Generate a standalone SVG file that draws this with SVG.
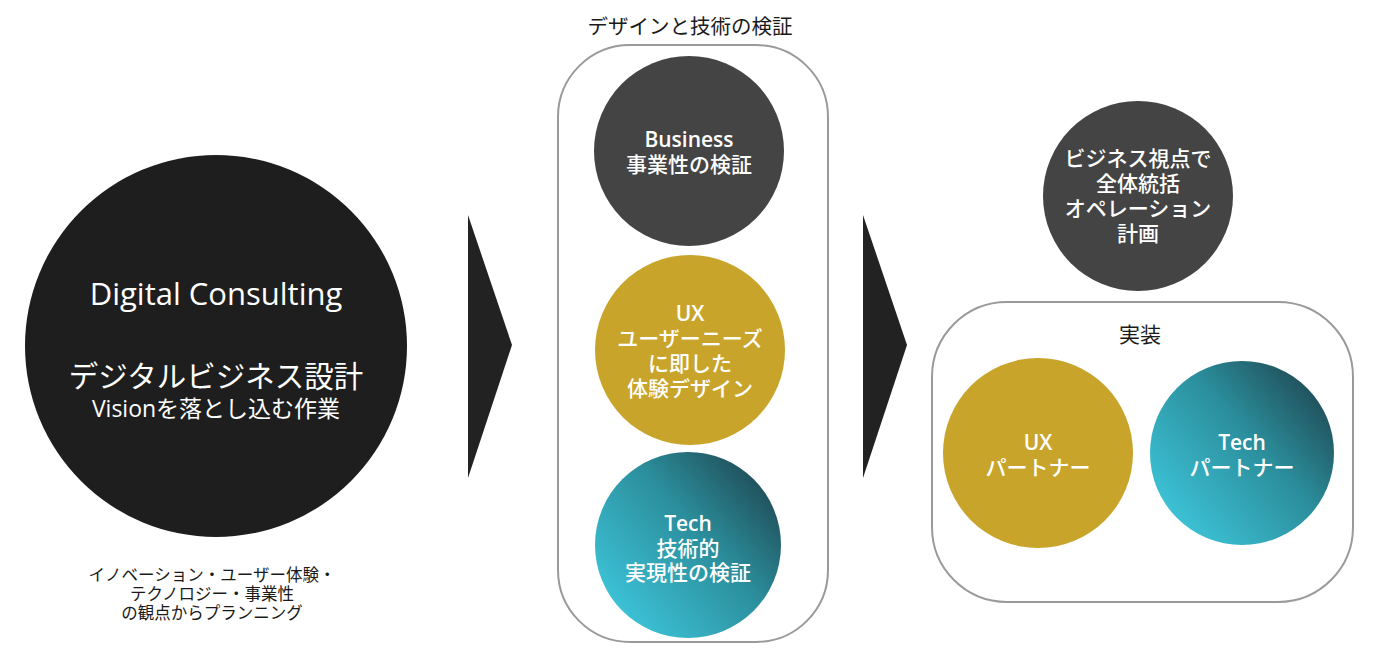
<svg xmlns="http://www.w3.org/2000/svg" width="1379" height="650" viewBox="0 0 1379 650">
<defs>
<linearGradient id="teal" x1="0.15" y1="0.85" x2="0.95" y2="0.15">
<stop offset="0" stop-color="#3cc0d4"/>
<stop offset="0.55" stop-color="#2b8e9c"/>
<stop offset="1" stop-color="#1f4a54"/>
</linearGradient>
<style>
text{font-family:"Open Sans","Noto Sans CJK JP",sans-serif;text-anchor:middle}
.w{fill:#ffffff}
.k{fill:#1a1a1a}
.c{font-size:21px;font-weight:500}
.lat{font-size:21px;font-weight:600}
.frame{fill:none;stroke:#9a9a9a;stroke-width:2}
.arrow{fill:#222222}
</style>
</defs>
<rect width="1379" height="650" fill="#ffffff"/>

<g id="digital-consulting">
<circle cx="216" cy="346" r="191" fill="#1e1e1e"/>
<text class="w" x="216" y="305" font-size="31">Digital Consulting</text>
<text class="w" x="216" y="387" font-size="29.5">デジタルビジネス設計</text>
<text class="w" x="216" y="417" font-size="23">Visionを落とし込む作業</text>
</g>

<g id="planning-note">
<text class="k" x="212" y="581" font-size="16.5">イノベーション・ユーザー体験・</text>
<text class="k" x="212" y="600" font-size="16.5">テクノロジー・事業性</text>
<text class="k" x="212" y="619" font-size="16.5">の観点からプランニング</text>
</g>

<g id="connectors">
<polygon class="arrow" points="468,215 512,345 468,478"/>
<polygon class="arrow" points="863,215 907,345 863,478"/>
</g>

<g id="verification">
<text class="k" x="690" y="34" font-size="20.5">デザインと技術の検証</text>
<rect class="frame" x="558" y="45" width="270" height="597" rx="72"/>
</g>

<g id="business">
<circle cx="689" cy="151" r="95" fill="#444444"/>
<text class="w lat" x="689" y="147">Business</text>
<text class="w c" x="689" y="172">事業性の検証</text>
</g>

<g id="ux">
<circle cx="690" cy="350" r="95" fill="#c9a42a"/>
<text class="w lat" x="690" y="321">UX</text>
<text class="w c" x="690" y="346">ユーザーニーズ</text>
<text class="w c" x="690" y="371">に即した</text>
<text class="w c" x="690" y="396">体験デザイン</text>
</g>

<g id="tech">
<circle cx="688" cy="545" r="93" fill="url(#teal)"/>
<text class="w lat" x="688" y="531">Tech</text>
<text class="w c" x="688" y="556">技術的</text>
<text class="w c" x="688" y="580">実現性の検証</text>
</g>

<g id="operation">
<circle cx="1138" cy="196" r="95" fill="#444444"/>
<text class="w c" x="1138" y="166">ビジネス視点で</text>
<text class="w c" x="1138" y="191">全体統括</text>
<text class="w c" x="1138" y="216">オペレーション</text>
<text class="w c" x="1138" y="241">計画</text>
</g>

<g id="implementation">
<rect class="frame" x="932" y="302" width="421" height="300" rx="75"/>
<text class="k" x="1140" y="342" font-size="21">実装</text>
</g>

<g id="ux-partner">
<circle cx="1038" cy="453" r="95" fill="#c9a42a"/>
<text class="w lat" x="1038" y="450">UX</text>
<text class="w c" x="1038" y="475">パートナー</text>
</g>

<g id="tech-partner">
<circle cx="1242" cy="453" r="92" fill="url(#teal)"/>
<text class="w lat" x="1242" y="450">Tech</text>
<text class="w c" x="1242" y="475">パートナー</text>
</g>
</svg>
